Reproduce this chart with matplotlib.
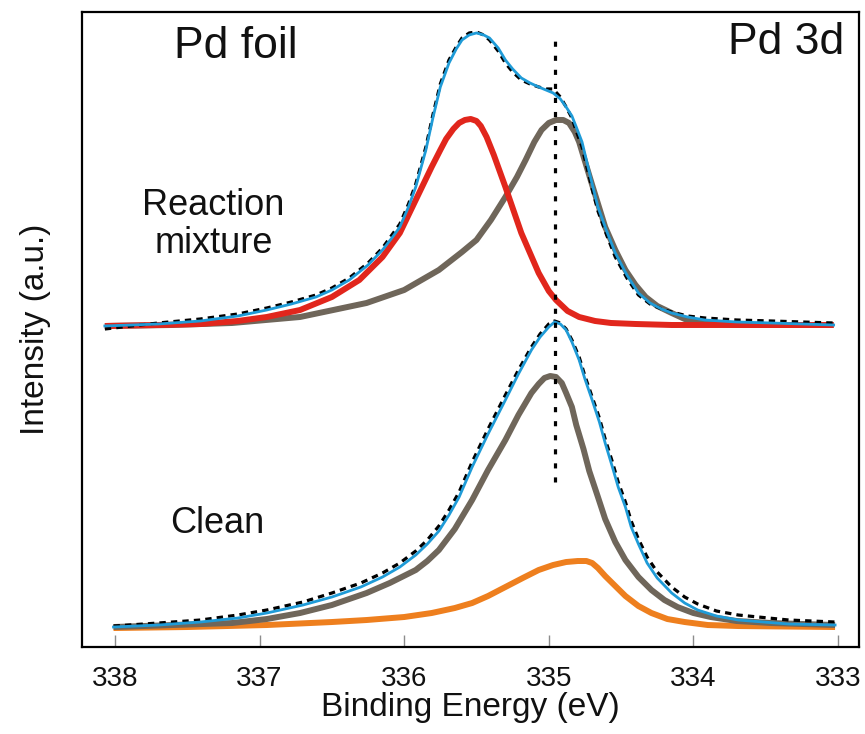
import matplotlib
matplotlib.use("Agg")
import matplotlib.pyplot as plt

plt.rcParams['font.family'] = ['Liberation Sans', 'DejaVu Sans']

# ---------------- data (binding energy in eV, intensity in a.u.) ----------------
tick_vals = [338, 337, 336, 335, 334, 333]
tick_labels = ["338", "337", "336", "335", "334", "333"]

# Reaction mixture (upper set)
rx_red_x = [338.07, 337.70, 337.41, 337.15, 336.95, 336.72, 336.50, 336.31, 336.15, 336.03,
            335.92, 335.81, 335.75, 335.71, 335.66, 335.62, 335.58, 335.54, 335.50, 335.47,
            335.43, 335.38, 335.30, 335.19, 335.07, 335.00, 334.95, 334.87, 334.79, 334.68,
            334.57, 334.40, 334.15, 333.03]
rx_red_y = [321, 322, 323, 326, 330, 337, 350, 367, 390, 414,
            447, 480, 497, 508, 518, 524, 527, 528, 526, 521,
            510, 492, 460, 414, 374, 356, 347, 336, 330, 326,
            324, 323, 322, 322]

rx_brown_x = [338.07, 337.60, 337.19, 336.72, 336.26, 336.00, 335.76, 335.60, 335.50, 335.40,
              335.30, 335.22, 335.16, 335.10, 335.05, 335.00, 334.95, 334.90, 334.86, 334.82,
              334.79, 334.70, 334.61, 334.54, 334.47, 334.40, 334.33, 334.25, 334.15, 334.06,
              333.97, 333.80, 333.69, 333.03]
rx_brown_y = [321, 322, 324, 330, 344, 357, 377, 395, 407, 427,
              450, 470, 487, 505, 517, 524, 527, 527, 524, 515,
              505, 462, 420, 397, 377, 362, 350, 341, 334, 328,
              325, 323, 322, 322]

rx_fit_x = [338.07, 337.70, 337.41, 337.15, 336.95, 336.78, 336.61, 336.50, 336.38, 336.25,
            336.15, 336.08, 336.03, 335.97, 335.92, 335.85, 335.80, 335.75, 335.69, 335.64,
            335.60, 335.55, 335.50, 335.45, 335.41, 335.35, 335.30, 335.25, 335.19, 335.13,
            335.07, 335.02, 334.97, 334.92, 334.88, 334.84, 334.81, 334.77, 334.74, 334.70,
            334.66, 334.60, 334.54, 334.46, 334.38, 334.30, 334.22, 334.15, 334.04, 333.92,
            333.70, 333.46, 333.03]
rx_fit_y = [321, 323, 326, 331, 337, 343, 350, 357, 367, 382,
            397, 410, 420, 440, 460, 497, 530, 560, 584, 598,
            607, 612, 614, 612, 609, 599, 587, 578, 569, 564,
            560, 557, 554, 548, 540, 531, 520, 505, 487, 463,
            440, 416, 394, 372, 354, 344, 338, 334, 330, 327,
            325, 324, 322]
rx_data_y = [318, 324, 328, 333, 339, 345, 352, 359, 369, 384,
             399, 413, 423, 443, 463, 500, 533, 563, 587, 600,
             609, 614, 615, 612, 607, 596, 584, 575, 567, 563,
             560, 558, 558, 550, 540, 529, 516, 500, 482, 458,
             436, 412, 390, 369, 352, 343, 338, 335, 331, 329,
             327, 326, 324]

# Clean (lower set)
cl_fit_x = [338.01, 337.70, 337.41, 337.15, 336.95, 336.70, 336.50, 336.30, 336.15, 336.03,
            335.92, 335.84, 335.76, 335.69, 335.62, 335.53, 335.42, 335.30, 335.21, 335.12,
            335.06, 335.00, 334.96, 334.92, 334.88, 334.84, 334.79, 334.75, 334.70, 334.65,
            334.61, 334.56, 334.52, 334.47, 334.43, 334.38, 334.32, 334.25, 334.15, 334.06,
            333.97, 333.84, 333.69, 333.34, 333.02]
cl_fit_y = [20, 22, 25, 29, 34, 42, 50, 60, 70, 80,
            92, 103, 116, 132, 150, 180, 213, 247, 273, 297,
            310, 320, 325, 323, 317, 305, 287, 268, 247, 225,
            204, 180, 160, 140, 120, 103, 84, 69, 54, 44,
            37, 31, 27, 23, 22]
cl_data_y = [21, 24, 27, 32, 37, 45, 54, 64, 74, 84,
             96, 107, 121, 137, 155, 185, 218, 252, 277, 300,
             313, 323, 326, 324, 318, 307, 290, 271, 250, 229,
             208, 185, 165, 145, 126, 108, 90, 75, 60, 50,
             43, 36, 32, 27, 25]

cl_brown_x = [338.01, 337.60, 337.19, 336.95, 336.72, 336.50, 336.26, 336.10, 335.92, 335.84,
              335.76, 335.65, 335.53, 335.42, 335.30, 335.21, 335.12, 335.07, 335.03, 334.99,
              334.95, 334.91, 334.88, 334.84, 334.81, 334.76, 334.72, 334.66, 334.61, 334.54,
              334.47, 334.38, 334.29, 334.20, 334.11, 334.00, 333.88, 333.70, 333.46, 333.02]
cl_brown_y = [20, 22, 24, 28, 34, 42, 54, 64, 77, 86,
              97, 118, 147, 177, 207, 232, 254, 263, 269, 271,
              270, 264, 254, 240, 222, 198, 176, 150, 128, 105,
              87, 70, 57, 47, 40, 34, 30, 26, 24, 22]

cl_orange_x = [338.01, 337.50, 336.95, 336.50, 336.26, 336.00, 335.81, 335.65, 335.53, 335.42,
               335.30, 335.18, 335.07, 334.97, 334.88, 334.80, 334.74, 334.70, 334.66, 334.61,
               334.54, 334.47, 334.38, 334.29, 334.18, 334.06, 333.90, 333.69, 333.02]
cl_orange_y = [19, 20, 22, 25, 27, 30, 34, 39, 44, 51,
               60, 69, 77, 82, 85, 86, 86, 84, 79, 71,
               61, 51, 41, 34, 28, 25, 22, 21, 20]

ref_x = [334.96, 334.96]
ref_y = [165, 607]

# ---------------- styles ----------------
RED = "#E1261C"
BROWN = "#6F665A"
ORANGE = "#EE7F1E"
BLUE = "#1F9BD7"

fig = plt.figure(figsize=(8.65, 7.34), dpi=100)
ax = fig.add_axes([0.0948, 0.1185, 0.8982, 0.8652])

thick = dict(lw=4.3, solid_capstyle='butt', solid_joinstyle='round')
dash_style = (0, (2.0, 1.6))

# upper set
ax.plot(rx_brown_x, rx_brown_y, color=BROWN, **thick)
ax.plot(rx_red_x, rx_red_y, color=RED, **thick)
ax.plot(rx_fit_x, rx_data_y, color='black', lw=2.3, linestyle=dash_style)
ax.plot(rx_fit_x, rx_fit_y, color=BLUE, lw=2.0, solid_joinstyle='round')

# lower set
ax.plot(cl_orange_x, cl_orange_y, color=ORANGE, **thick)
ax.plot(cl_brown_x, cl_brown_y, color=BROWN, **thick)
ax.plot(cl_fit_x, cl_data_y, color='black', lw=2.3, linestyle=dash_style)
ax.plot(cl_fit_x, cl_fit_y, color=BLUE, lw=2.0, solid_joinstyle='round')

# reference line
ax.plot(ref_x, ref_y, color='black', lw=2.3, linestyle=(0, (1.6, 2.8)))

ax.set_xlim(338.228, 332.855)
ax.set_ylim(0, 635)

ax.set_xticks(tick_vals)
ax.set_xticklabels(tick_labels, fontsize=20)
ax.set_yticks([])
ax.tick_params(axis='x', direction='in', length=9, width=1, color='#8c8c8c',
               pad=14, labelcolor='#111111')
for s in ax.spines.values():
    s.set_linewidth(1.6)
    s.set_color('black')

ax.set_xlabel("Binding Energy (eV)", fontsize=24, labelpad=0, color='#111111')
ax.set_ylabel("Intensity (a.u.)", fontsize=24, labelpad=22, color='#111111')

ax.text(0.198, 0.945, "Pd foil", transform=ax.transAxes, fontsize=32,
        ha='center', va='center', color='#111111')
ax.text(0.981, 0.952, "Pd 3d", transform=ax.transAxes, fontsize=32,
        ha='right', va='center', color='#111111')
ax.text(0.169, 0.665, "Reaction\nmixture", transform=ax.transAxes, fontsize=26,
        ha='center', va='center', linespacing=1.12, color='#111111')
ax.text(0.174, 0.195, "Clean", transform=ax.transAxes, fontsize=26,
        ha='center', va='center', color='#111111')

fig.savefig("out.png", dpi=100)
